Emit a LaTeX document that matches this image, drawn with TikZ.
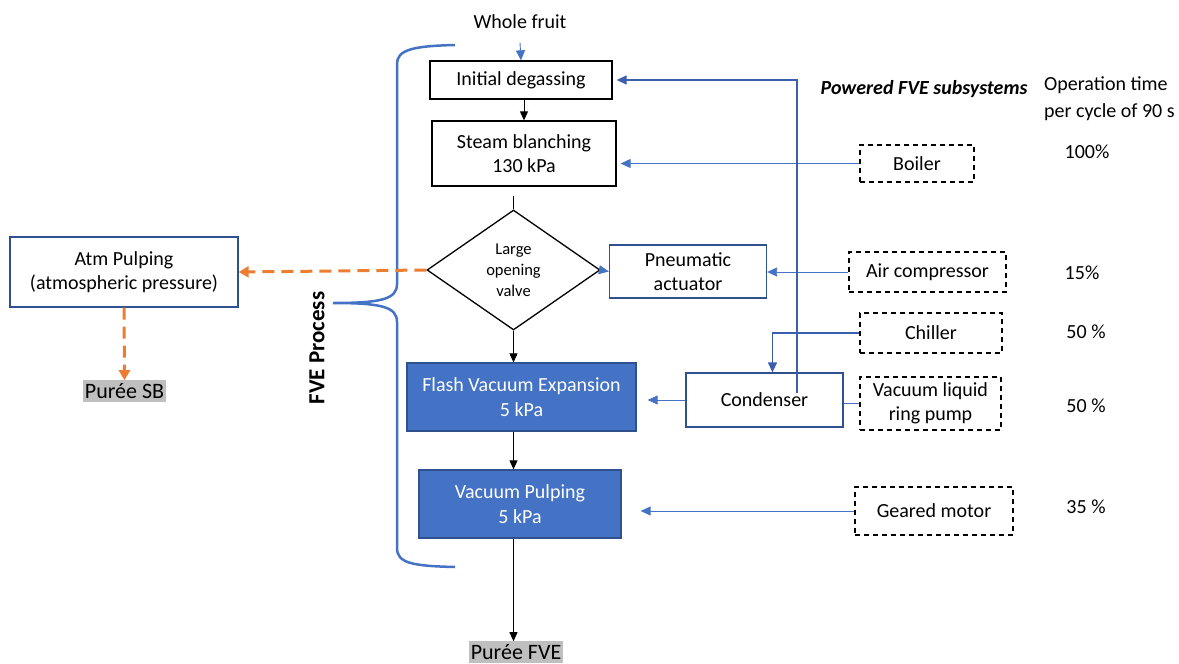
\documentclass[tikz,border=0pt]{standalone}
\usepackage{fontspec}
\setmainfont{Carlito}
\usetikzlibrary{shapes.geometric,arrows.meta}
\definecolor{accblue}{HTML}{4472C4}
\definecolor{edgeblue}{HTML}{2F528F}
\definecolor{loopblue}{HTML}{3A5FAF}
\definecolor{accorange}{HTML}{ED7D31}
\definecolor{pureegrey}{HTML}{BFBFBF}
\begin{document}
\begin{tikzpicture}[x=1pt,y=-1pt,
    font=\fontsize{20}{24.5}\selectfont,
    proc/.style={draw=black,line width=1.3pt,align=center,inner sep=0pt},
    bluebox/.style={draw=edgeblue,line width=1.3pt,align=center,inner sep=0pt},
    vacbox/.style={fill=accblue,draw=edgeblue,line width=1.3pt,text=white,align=center,inner sep=0pt},
    subsys/.style={draw=black,line width=1.3pt,dash pattern=on 5pt off 4pt,align=center,inner sep=0pt},
    puree/.style={fill=pureegrey,inner xsep=1.5pt,inner ysep=3pt,font=\fontsize{22}{26}\selectfont},
    flow/.style={draw=black,line width=0.9pt,-{Triangle[length=9pt,width=8pt]}},
    feed/.style={draw=accblue,line width=0.9pt,-{Triangle[length=10pt,width=9pt]}},
    loopfeed/.style={draw=loopblue,line width=1.3pt,-{Triangle[length=10pt,width=9pt]}},
    atmflow/.style={draw=accorange,line width=3pt,dash pattern=on 12pt off 7pt,-{Triangle[length=10pt,width=11pt]}}]
\useasboundingbox (0,0) rectangle (1179,664);

% FVE line
\node (fruit) at (520,22) {Whole fruit};
\node[proc,minimum width=182pt,minimum height=38pt] (ID) at (521,80) {Initial degassing};
\node[proc,minimum width=184pt,minimum height=65pt] (SB) at (524,153.5) {Steam blanching\\130 kPa};
\node[diamond,draw=black,line width=1.3pt,aspect=1.44,minimum width=173pt,minimum height=120pt,inner sep=0pt,align=center,font=\fontsize{16.5}{21}\selectfont] (valve) at (513.5,270) {Large\\opening\\valve};
\node[bluebox,minimum width=157pt,minimum height=53pt] (pneu) at (688,271.5) {Pneumatic\\actuator};
\node[vacbox,minimum width=229pt,minimum height=68pt] (FVE) at (521.5,397) {Flash Vacuum Expansion\\5 kPa};
\node[vacbox,minimum width=202pt,minimum height=68pt] (VP) at (520,504) {Vacuum Pulping\\5 kPa};
\node[bluebox,minimum width=157pt,minimum height=54pt] (cond) at (764.5,400) {Condenser};
\node[puree] (pfve) at (516,652) {Purée FVE};

% atmospheric branch
\node[bluebox,minimum width=228pt,minimum height=70pt] (atm) at (124,272) {Atm Pulping\\(atmospheric pressure)};
\node[puree] (psb) at (124.5,391) {Purée SB};

% subsystems
\node[subsys,minimum width=114pt,minimum height=37pt] (boil) at (917,163.5) {Boiler};
\node[subsys,minimum width=157pt,minimum height=40pt] (air) at (927.5,272) {Air compressor};
\node[subsys,minimum width=142pt,minimum height=40pt] (chill) at (931,333) {Chiller};
\node[subsys,minimum width=141pt,minimum height=53pt] (pump) at (930.5,403.5) {Vacuum liquid\\ring pump};
\node[subsys,minimum width=158pt,minimum height=48pt] (gear) at (934,511) {Geared motor};

\node[anchor=east,font=\fontsize{20}{24.5}\bfseries\itshape] (powered) at (1031,89) {Powered FVE subsystems};
\node[anchor=north west,align=left,inner sep=0pt,font=\fontsize{20}{27}\selectfont] (optime) at (1044,76) {Operation time\\per cycle of 90 s};
\node (t1) at (1087,152) {100\%};
\node (t2) at (1082,273) {15\%};
\node (t3) at (1086,332) {50 \%};
\node (t4) at (1086,406) {50 \%};
\node (t5) at (1086,507) {35 \%};

\node[rotate=90,font=\fontsize{23}{27}\bfseries] (fvelabel) at (317,348) {FVE Process};

% bracket
\draw[accblue,line width=2.5pt] (455,45) .. controls (412,46) and (397,50) .. (397,64) -- (397,284)
  .. controls (397,299) and (382,303) .. (333,303)
  .. controls (382,303) and (397,307) .. (397,322) -- (397,548)
  .. controls (397,563) and (412,566) .. (455,567);

% connectors
\coordinate (stub) at (513.5,196);
\coordinate (ret) at (797,393);
\draw[feed] ([yshift=-10pt]fruit.south) -- (ID.north);
\draw[flow] (ID.south -| SB.north) -- (SB.north);
\draw[black,line width=0.9pt] (stub) -- (valve.north);
\draw[flow] (valve.south) -- (valve.south |- FVE.north);
\draw[flow] (FVE.south -| valve.south) -- (VP.north -| valve.south);
\draw[flow] (VP.south -| valve.south) -- (pfve.north -| valve.south);
\draw[feed] (valve.east) -- (pneu.west);
\draw[feed] (air.west) -- (air.west -| pneu.east);
\draw[feed,shorten >=4pt] (boil.west) -- (boil.west -| SB.east);
\draw[feed,shorten >=11pt] (cond.west) -- (cond.west -| FVE.east);
\draw[feed,shorten >=19pt] (gear.west) -- (gear.west -| VP.east);
\draw[accblue,line width=0.9pt] (pump.west) -- (pump.west -| cond.east);
\draw[loopfeed] (chill.west) -| ([xshift=8pt]cond.north);
\draw[loopfeed,shorten >=4pt] (ret) |- (ID.east);
\draw[atmflow] (valve.west) -- (atm.east);
\draw[atmflow] (atm.south) -- (psb.north);
\end{tikzpicture}
\end{document}
